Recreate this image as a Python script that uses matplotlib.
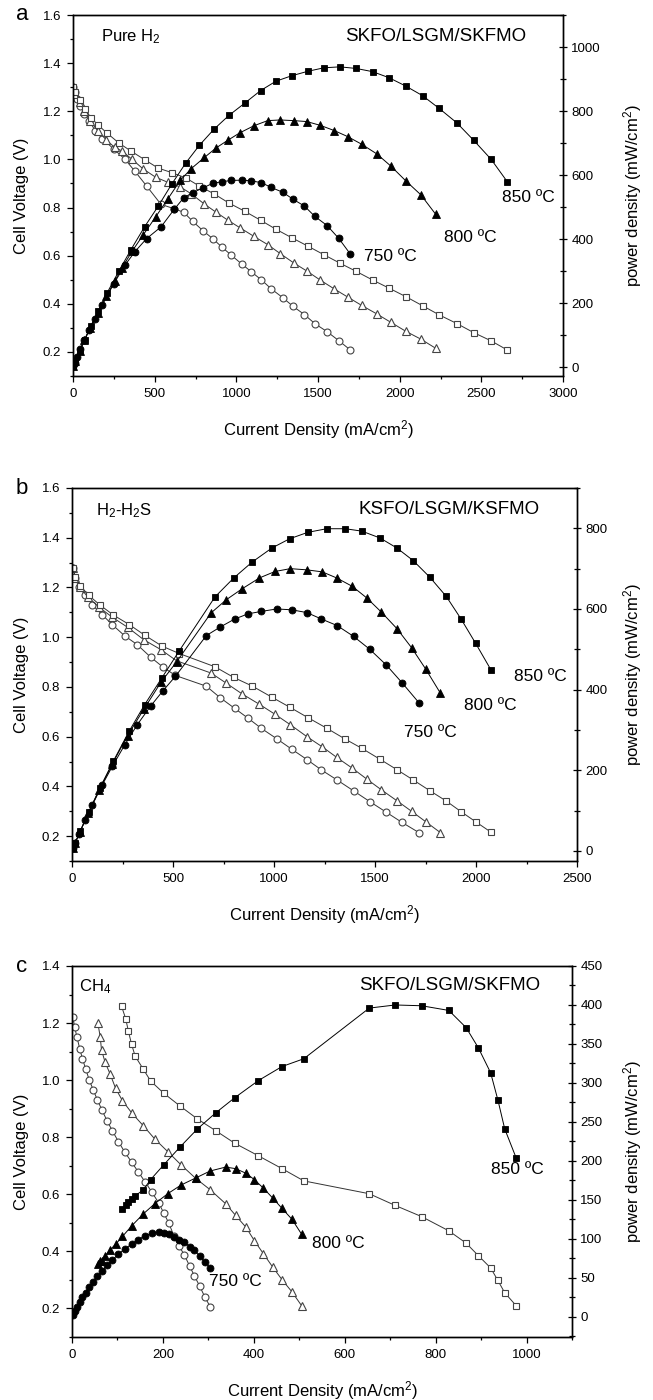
import matplotlib
matplotlib.use('Agg')
import matplotlib.pyplot as plt
from matplotlib.ticker import MultipleLocator

plt.rcParams['font.family'] = ['Liberation Sans', 'DejaVu Sans']
plt.rcParams['mathtext.fontset'] = 'custom'
plt.rcParams['mathtext.rm'] = 'Liberation Sans'
plt.rcParams['mathtext.it'] = 'Liberation Sans:italic'

# ---- panel a : pure H2, SKFO/LSGM/SKFMO ----
a_i_850 = [3, 15, 40, 71, 109, 152, 207, 281, 354, 438, 521, 605, 691, 774, 863, 954, 1050, 1149, 1242, 1338,
           1437, 1536, 1634, 1733, 1834, 1935, 2037, 2140, 2242, 2350, 2454, 2560, 2659]
a_v_850 = [1.30, 1.28, 1.246, 1.211, 1.174, 1.144, 1.11, 1.068, 1.035, 0.999, 0.964, 0.945, 0.923, 0.889, 0.857,
           0.819, 0.785, 0.747, 0.71, 0.675, 0.64, 0.604, 0.569, 0.535, 0.499, 0.465, 0.43, 0.392, 0.354, 0.318,
           0.28, 0.246, 0.208]
a_p_850 = [4, 19, 50, 86, 128, 174, 230, 300, 366, 438, 502, 572, 638, 693, 743, 786, 824, 864, 893, 910, 924,
           935, 938, 933, 923, 904, 878, 848, 808, 763, 708, 649, 579]

a_i_800 = [3, 15, 40, 70, 105, 150, 205, 255, 300, 362, 430, 506, 580, 658, 724, 805, 877, 949, 1022, 1108, 1192,
           1268, 1351, 1432, 1515, 1599, 1682, 1768, 1860, 1946, 2037, 2130, 2221]
a_v_800 = [1.30, 1.27, 1.24, 1.2, 1.16, 1.12, 1.08, 1.05, 1.035, 1.0, 0.96, 0.926, 0.905, 0.885, 0.857, 0.814,
           0.78, 0.747, 0.716, 0.68, 0.646, 0.609, 0.57, 0.536, 0.498, 0.462, 0.428, 0.393, 0.358, 0.323, 0.286,
           0.253, 0.215]
a_p_800 = [4, 19, 50, 84, 122, 168, 221, 268, 310, 362, 413, 469, 525, 584, 620, 655, 685, 709, 732, 754, 770,
           772, 770, 767, 755, 739, 720, 696, 666, 628, 582, 538, 477]

a_i_750 = [3, 10, 25, 45, 70, 100, 135, 180, 248, 319, 380, 450, 539, 620, 678, 734, 797, 855, 911, 969, 1032,
           1090, 1154, 1214, 1285, 1348, 1417, 1480, 1556, 1627, 1698]
a_v_750 = [1.30, 1.28, 1.25, 1.22, 1.19, 1.16, 1.12, 1.086, 1.044, 1.0, 0.95, 0.89, 0.813, 0.795, 0.78, 0.742,
           0.703, 0.671, 0.636, 0.602, 0.566, 0.534, 0.499, 0.462, 0.425, 0.389, 0.355, 0.318, 0.284, 0.247, 0.208]
a_p_750 = [4, 13, 31, 55, 83, 116, 151, 195, 259, 319, 361, 401, 438, 493, 529, 545, 560, 574, 579, 583, 584,
           582, 576, 561, 546, 524, 503, 471, 442, 402, 353]

# ---- panel b : H2-H2S, KSFO/LSGM/KSFMO ----
b_i_850 = [5, 16, 41, 82, 139, 205, 283, 360, 446, 532, 708, 801, 891, 989, 1077, 1167, 1261, 1353, 1435, 1525,
           1609, 1689, 1771, 1853, 1925, 1998, 2074]
b_v_850 = [1.28, 1.243, 1.207, 1.169, 1.129, 1.089, 1.051, 1.008, 0.964, 0.934, 0.881, 0.838, 0.804, 0.759, 0.719,
           0.677, 0.634, 0.59, 0.553, 0.509, 0.467, 0.426, 0.383, 0.341, 0.299, 0.258, 0.216]
b_p_850 = [6, 20, 49, 96, 157, 223, 297, 363, 430, 497, 630, 677, 716, 751, 774, 790, 799, 799, 793, 776, 751,
           720, 679, 631, 576, 515, 449]

b_i_800 = [5, 16, 40, 80, 135, 200, 275, 355, 440, 518, 688, 764, 842, 928, 1005, 1081, 1163, 1239, 1310, 1388,
           1460, 1532, 1609, 1681, 1751, 1824]
b_v_800 = [1.28, 1.24, 1.2, 1.16, 1.12, 1.08, 1.04, 0.99, 0.95, 0.905, 0.856, 0.815, 0.772, 0.73, 0.69, 0.648,
           0.6, 0.559, 0.517, 0.473, 0.429, 0.386, 0.342, 0.3, 0.258, 0.214]
b_p_800 = [6, 20, 48, 93, 151, 216, 286, 351, 418, 469, 590, 623, 650, 677, 693, 700, 697, 692, 677, 656, 627,
           592, 551, 504, 451, 391]

b_i_750 = [5, 15, 35, 65, 100, 150, 200, 260, 323, 389, 450, 512, 665, 733, 805, 872, 938, 1013, 1087, 1163,
           1235, 1312, 1394, 1474, 1556, 1634, 1720]
b_v_750 = [1.28, 1.24, 1.2, 1.17, 1.13, 1.09, 1.05, 1.006, 0.97, 0.92, 0.88, 0.846, 0.803, 0.757, 0.714, 0.674,
           0.633, 0.592, 0.55, 0.508, 0.466, 0.426, 0.382, 0.339, 0.296, 0.255, 0.213]
b_p_750 = [6, 19, 42, 76, 113, 164, 210, 262, 313, 359, 397, 433, 534, 555, 575, 588, 594, 600, 598, 591, 575,
           559, 532, 500, 461, 417, 366]

# ---- panel c : CH4, SKFO/LSGM/SKFMO ----
c_i_850 = [109, 118, 124, 131, 139, 157, 173, 202, 238, 276, 317, 358, 410, 462, 510, 654, 711, 769, 829, 867,
           894, 921, 937, 952, 977]
c_v_850 = [1.259, 1.216, 1.172, 1.126, 1.084, 1.038, 0.997, 0.954, 0.909, 0.864, 0.822, 0.779, 0.735, 0.69,
           0.647, 0.602, 0.561, 0.522, 0.472, 0.429, 0.385, 0.342, 0.298, 0.255, 0.21]
c_p_850 = [138, 144, 147, 151, 155, 163, 176, 195, 218, 241, 262, 281, 303, 321, 331, 396, 400, 399, 393, 371,
           345, 313, 278, 241, 204]

c_i_800 = [57, 62, 65, 73, 84, 96, 111, 132, 157, 182, 211, 240, 272, 304, 338, 360, 383, 401, 421, 442, 462,
           484, 505]
c_v_800 = [1.199, 1.152, 1.105, 1.062, 1.021, 0.971, 0.928, 0.884, 0.84, 0.794, 0.749, 0.703, 0.656, 0.616,
           0.567, 0.526, 0.484, 0.438, 0.392, 0.344, 0.301, 0.258, 0.21]
c_p_800 = [68, 71, 72, 78, 86, 93, 103, 117, 132, 145, 158, 169, 178, 187, 192, 190, 184, 176, 165, 152, 139,
           125, 106]

c_i_750 = [2, 6, 11, 17, 23, 30, 38, 47, 56, 66, 77, 89, 102, 116, 131, 146, 161, 176, 191, 202, 213, 224, 235,
           247, 259, 269, 281, 292, 304]
c_v_750 = [1.22, 1.185, 1.15, 1.11, 1.075, 1.04, 1.0, 0.965, 0.93, 0.895, 0.858, 0.822, 0.785, 0.748, 0.713,
           0.678, 0.643, 0.607, 0.569, 0.534, 0.499, 0.455, 0.42, 0.388, 0.348, 0.315, 0.278, 0.241, 0.206]
c_p_750 = [2, 7, 13, 19, 25, 31, 38, 45, 52, 59, 66, 73, 80, 87, 93, 99, 104, 107, 109, 108, 106, 102, 99, 96,
           90, 85, 78, 70, 63]

W, H = 653, 1400
fig = plt.figure(figsize=(W / 100, H / 100), dpi=100)

# axes boxes in pixels: left, right, top, bottom
boxes = [(73, 563, 15, 376), (72, 577, 488, 861), (72, 572, 966, 1337)]

panels = [
    dict(letter='a', box=boxes[0], xlim=(0, 3000), xmaj=500, xmin=250, ylim=(0.1, 1.6),
         plim=(-28, 1100), pmaj=200, pmin=100, pticks=(0, 1000),
         series=[(a_i_750, a_v_750, a_p_750, 'o'), (a_i_800, a_v_800, a_p_800, '^'),
                 (a_i_850, a_v_850, a_p_850, 's')],
         gas='Pure H$_2$', gas_xy=(170, 1.51), cell='SKFO/LSGM/SKFMO', cell_xy=(1665, 1.51),
         temps=[('850 ºC', 2626, 0.84), ('800 ºC', 2272, 0.676), ('750 ºC', 1779, 0.596)]),
    dict(letter='b', box=boxes[1], xlim=(0, 2500), xmaj=500, xmin=250, ylim=(0.1, 1.6),
         plim=(-25, 900), pmaj=200, pmin=100, pticks=(0, 800),
         series=[(b_i_750, b_v_750, b_p_750, 'o'), (b_i_800, b_v_800, b_p_800, '^'),
                 (b_i_850, b_v_850, b_p_850, 's')],
         gas='H$_2$-H$_2$S', gas_xy=(119, 1.51), cell='KSFO/LSGM/KSFMO', cell_xy=(1419, 1.515),
         temps=[('850 ºC', 2187, 0.841), ('800 ºC', 1941, 0.727), ('750 ºC', 1644, 0.617)]),
    dict(letter='c', box=boxes[2], xlim=(0, 1100), xmaj=200, xmin=100, ylim=(0.1, 1.4),
         plim=(-26, 450), pmaj=50, pmin=25, pticks=(0, 450),
         series=[(c_i_750, c_v_750, c_p_750, 'o'), (c_i_800, c_v_800, c_p_800, '^'),
                 (c_i_850, c_v_850, c_p_850, 's')],
         gas='CH$_4$', gas_xy=(16, 1.326), cell='SKFO/LSGM/SKFMO', cell_xy=(632, 1.33),
         temps=[('850 ºC', 921, 0.686), ('800 ºC', 528, 0.429), ('750 ºC', 301, 0.295)]),
]

for pn in panels:
    l, r, t, b = pn['box']
    ax = fig.add_axes([l / W, 1 - b / H, (r - l) / W, (b - t) / H])
    ax2 = ax.twinx()

    for cur, volt, powr, mk in pn['series']:
        ms = 5.5 if mk == '^' else 5
        # open symbols: cell voltage
        ax.plot(cur, volt, '-', color='#333333', lw=0.7, marker=mk, ms=ms,
                mfc='white', mec='#444444', mew=0.8)
        # filled symbols: power density
        ax2.plot(cur, powr, '-', color='black', lw=0.7, marker=mk, ms=ms,
                 mfc='black', mec='black', mew=0.6)

    ax.set_xlim(pn['xlim'])
    ax.set_ylim(pn['ylim'])
    ax.xaxis.set_major_locator(MultipleLocator(pn['xmaj']))
    ax.xaxis.set_minor_locator(MultipleLocator(pn['xmin']))
    ax.yaxis.set_major_locator(MultipleLocator(0.2))
    ax.yaxis.set_minor_locator(MultipleLocator(0.1))
    ax.set_yticks([v / 10 for v in range(2, int(round(pn['ylim'][1] * 10)) + 1, 2)])

    ax2.set_ylim(pn['plim'])
    ax2.set_yticks(list(range(pn['pticks'][0], pn['pticks'][1] + 1, pn['pmaj'])))
    ax2.yaxis.set_minor_locator(MultipleLocator(pn['pmin']))

    ax.tick_params(which='both', direction='out', top=False, right=False, labelsize=9.5, width=0.9, pad=4)
    ax.tick_params(which='major', length=4.5)
    ax.tick_params(which='minor', length=2.5)
    ax2.tick_params(which='both', direction='inout', labelsize=9.5, width=0.9, pad=3)
    ax2.tick_params(which='major', length=6)
    ax2.tick_params(which='minor', length=4)
    for sp in ax.spines.values():
        sp.set_linewidth(1.0)
    for sp in ax2.spines.values():
        sp.set_linewidth(1.0)

    wpx, hpx = r - l, b - t
    ax.set_xlabel('Current Density (mA/cm$^2$)', fontsize=12)
    ax.xaxis.set_label_coords(0.5, -42 / hpx)
    ax.set_ylabel('Cell Voltage (V)', fontsize=12)
    ax.yaxis.set_label_coords(-(l - 29) / wpx, 0.5)
    ax2.set_ylabel('power density (mW/cm$^2$)', fontsize=12)
    ax2.yaxis.set_label_coords((621 - l) / wpx, 0.5)

    ax.text(pn['gas_xy'][0], pn['gas_xy'][1], pn['gas'], fontsize=12, va='center')
    ax.text(pn['cell_xy'][0], pn['cell_xy'][1], pn['cell'], fontsize=13.5, va='center')
    for txt, tx, ty in pn['temps']:
        ax.text(tx, ty, txt, fontsize=12.5, va='center')

    fig.text(22 / W, 1 - t / H, pn['letter'], fontsize=16, ha='center', va='center')

fig.savefig('out.png', dpi=100)
